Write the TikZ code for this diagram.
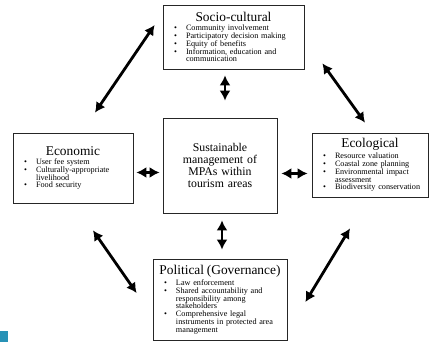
\documentclass[tikz,border=0pt]{standalone}
\usepackage{fontspec}
\setmainfont{Liberation Serif}
\usepackage{enumitem}
\usetikzlibrary{arrows.meta, calc, positioning}
\setlist[itemize]{nosep, leftmargin=19pt, labelsep=9pt, label=\textbullet}
\definecolor{slideteal}{RGB}{40,146,182}
\tikzset{
	itemtext/.style={font=\fontsize{8.2}{7.8}\selectfont}
}
\tikzset{
	coretext/.style={font=\fontsize{11.8}{12.2}\selectfont}
}
\newcommand{\boxhead}[1]{{\centering\fontsize{13.4}{13.5}\selectfont #1\par}\vspace{1.5pt}}

\begin{document}
\begin{tikzpicture}[x=1pt, y=-1pt, box/.style={draw=black!85, line width=0.8pt, inner sep=4pt},
    link/.style={{Latex[length=10pt,width=11pt]}-{Latex[length=10pt,width=11pt]}, line width=2.8pt}]
      \useasboundingbox (0,0) rectangle (432,342);
      \node[box, coretext, text width=106pt, minimum height=95pt, align=center] (core) at (220,165.5)
        {Sustainable\\ management of\\ MPAs within\\ tourism areas};
      \node[box, itemtext, text width=133pt, minimum height=64pt] (socio) at (233.5,37)
        {\boxhead{Socio-cultural}
         \begin{itemize}
           \item Community involvement
           \item Participatory decision making
           \item Equity of benefits
           \item Information, education and\newline communication
         \end{itemize}};
      \node[box, itemtext, text width=112pt, minimum height=70pt] (econ) at (73,168)
        {\boxhead{Economic}
         \begin{itemize}
           \item User fee system
           \item Culturally-appropriate\newline livelihood
           \item Food security
         \end{itemize}\vspace{6pt}};
      \node[box, itemtext, text width=108pt, minimum height=64pt] (ecol) at (370,165)
        {\boxhead{Ecological}
         \begin{itemize}
           \item Resource valuation
           \item Coastal zone planning
           \item Environmental impact\newline assessment
           \item Biodiversity conservation
         \end{itemize}};
      \node[box, itemtext, text width=126pt, minimum height=81pt] (polit) at (220,299.5)
        {\boxhead{Political (Governance)}
         \begin{itemize}
           \item Law enforcement
           \item Shared accountability and\newline responsibility among\newline stakeholders
           \item Comprehensive legal\newline instruments in protected area\newline management
         \end{itemize}};

      % links to the core
      \coordinate (lrow) at ($(core.west)+(0,7)$);
      \coordinate (rrow) at ($(core.east)+(0,8)$);
      \coordinate (tcol) at ($(core.north)+(5,0)$);
      \coordinate (bcol) at ($(core.south)+(2,0)$);
      \draw[link, shorten <=3pt, shorten >=3pt] (econ.east |- lrow) -- (lrow);
      \draw[link, shorten <=4pt, shorten >=4pt] (rrow) -- (ecol.west |- rrow);
      \draw[link, shorten <=6pt, shorten >=17pt] (socio.south -| tcol) -- (tcol);
      \draw[link, shorten <=7pt, shorten >=9pt] (bcol) -- (polit.north -| bcol);
      % links round the ring
      \draw[link] ($(econ.north)+(22,-20)$) -- ($(socio.west)+(-8,-12)$);
      \draw[link] ($(socio.south east)+(18,-6)$) -- ($(ecol.north)+(-5,-10)$);
      \draw[link] ($(econ.south)+(20,27)$) -- ($(polit.west)+(-16,-6.5)$);
      \draw[link] ($(ecol.south)+(-20,31)$) -- ($(polit.east)+(18,2.5)$);

      \fill[slideteal] (0,331) rectangle (8,342);
    \end{tikzpicture}
\end{document}
